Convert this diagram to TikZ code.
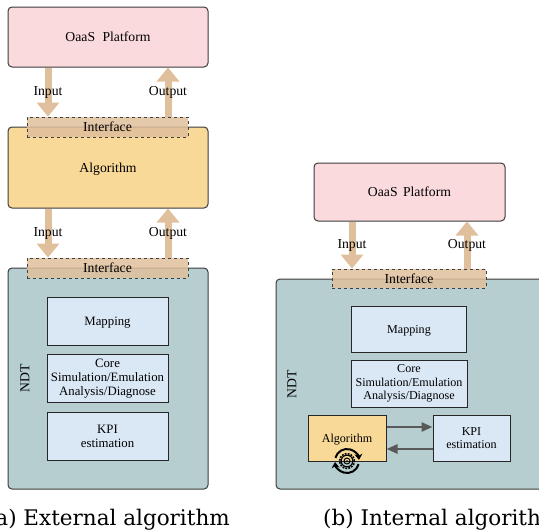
\documentclass[tikz,border=0pt]{standalone}
\usepackage{fontspec}
\setmainfont{Liberation Serif}
\newfontfamily\captionfont{DejaVu Serif}
\usetikzlibrary{arrows.meta}

\definecolor{pinkbox}{HTML}{FADADD}
\definecolor{yellowbox}{HTML}{F8D998}
\definecolor{tealbox}{HTML}{B6CED0}
\definecolor{bluebox}{HTML}{DAE8F5}
\definecolor{tanbox}{HTML}{E0BF9C}
\definecolor{edgegray}{HTML}{3C3C3C}
\definecolor{linkgray}{HTML}{595959}

\begin{document}
\begin{tikzpicture}[x=1pt,y=1pt,
  textbig/.style={font=\fontsize{13.7}{15}\selectfont},
  textsmall/.style={font=\fontsize{12.8}{14}\selectfont,align=center},
  textnarrow/.style={font=\fontsize{12.1}{13.4}\selectfont},
  block/.style={draw=edgegray,line width=1pt,rounded corners=4pt,textbig,inner sep=0pt},
  inner/.style={draw=black!85,line width=1pt,fill=bluebox,textsmall,inner sep=0pt,minimum width=121pt,minimum height=48pt},
  iface/.style={draw=black!75,line width=.9pt,dashed,fill=tanbox,fill opacity=.85,text opacity=1,textbig,inner sep=0pt},
  flow/.style={tanbox,line width=7pt,-{Triangle[length=14pt,width=22pt]}},
  link/.style={linkgray,line width=2.7pt,-{Triangle[length=11pt,width=9pt]}},
  flowtext/.style={textbig,text=black},
  caption/.style={font=\captionfont\fontsize{21.5}{23}\selectfont},
  turn/.style={black,line width=2pt,-{Stealth[length=6pt,width=8pt]}}]

\useasboundingbox (0,0) rectangle (539,-531);

% external
\node[block,fill=pinkbox,minimum width=200pt,minimum height=60pt] (oaasA) at (108,-37) {OaaS\hspace{4pt} Platform};
\node[block,fill=yellowbox,minimum width=200pt,minimum height=81pt,text depth=0pt] (algoA) [below of=oaasA,node distance=130.5pt] {Algorithm};
\node[block,fill=tealbox,minimum width=200pt,minimum height=221pt] (ndtA) [below of=algoA,node distance=211pt] {};
\node[iface,minimum width=161pt,minimum height=20pt] (ifaceA) at (107.5,-127) {Interface};
\node[iface,minimum width=161pt,minimum height=20pt] (ifaceB) at (107.5,-268) {Interface};
\node[inner] (coreA) at (107.5,-378.5) {Core\\Simulation/Emulation\\Analysis/Diagnose};
\node[inner,text depth=0pt] (mapA) [above of=coreA,node distance=57.5pt] {Mapping};
\node[inner] (kpiA) [below of=coreA,node distance=57.5pt] {KPI\\estimation};
\node[textbig,rotate=90] (ndtnameA) at (25,-378) {NDT};

\draw[flow] ([xshift=-60pt]oaasA.south) -- node[flowtext] (inA) {Input} ([xshift=-59.5pt]ifaceA.north);
\draw[flow] ([xshift=60.5pt]ifaceA.north) -- node[flowtext] (outA) {Output} ([xshift=60pt]oaasA.south);
\draw[flow] ([xshift=-60pt]algoA.south) -- node[flowtext] (inB) {Input} ([xshift=-59.5pt]ifaceB.north);
\draw[flow] ([xshift=60.5pt]ifaceB.north) -- node[flowtext] (outB) {Output} ([xshift=60pt]algoA.south);

\node[anchor=base east,caption] (capA) at (233.3,-525) {(a) External algorithm};

% internal
\node[block,fill=pinkbox,minimum width=191pt,minimum height=58pt] (oaasC) at (409.5,-192) {OaaS\hspace{2pt} Platform};
\node[block,fill=tealbox,minimum width=269pt,minimum height=210pt] (ndtC) at (410.5,-384) {};
\node[iface,minimum width=154pt,minimum height=19pt] (ifaceC) at (409,-278.5) {Interface};
\node[inner,textnarrow,minimum width=116pt,minimum height=47pt] (coreC) at (409,-383.5) {Core\\Simulation/Emulation\\Analysis/Diagnose};
\node[inner,textnarrow,minimum width=115pt,minimum height=46pt,text depth=0pt] (mapC) [above of=coreC,node distance=54.5pt] {Mapping};
\node[inner,textnarrow,fill=yellowbox,minimum width=78pt,minimum height=46pt,text depth=0pt] (algoC) at (347,-438) {Algorithm};
\node[inner,textnarrow,minimum width=77pt,minimum height=46pt] (kpiC) [right of=algoC,node distance=124.5pt] {KPI\\estimation};
\node[textbig,rotate=90] (ndtnameC) at (292,-384) {NDT};

\draw[flow] ([xshift=-57.5pt]oaasC.south) -- node[flowtext] (inC) {Input} ([xshift=-57pt]ifaceC.north);
\draw[flow] ([xshift=58pt]ifaceC.north) -- node[flowtext] (outC) {Output} ([xshift=57.5pt]oaasC.south);
\draw[link] ([yshift=11pt]algoC.east) -- ([yshift=11pt]kpiC.west);
\draw[link] ([yshift=-11pt]kpiC.west) -- ([yshift=-11pt]algoC.east);

% turning gear
\begin{scope}[shift={(347,-461)}]
\draw[black,line width=1.6pt,dash pattern=on 1.8pt off 1.2pt] (0,0) circle (7.4pt);
\draw[black,line width=1.1pt] (0,0) circle (5.8pt);
\draw[black,line width=1pt] (0,0) circle (3pt);
\fill[black] (0,0) circle (1pt);
\draw[turn] (165:12pt) arc (165:5:12pt);
\draw[turn] (-15:12pt) arc (-15:-175:12pt);
\end{scope}

\node[anchor=base west,caption] (capC) at (319.7,-525) {(b) Internal algorithm};
\end{tikzpicture}
\end{document}
